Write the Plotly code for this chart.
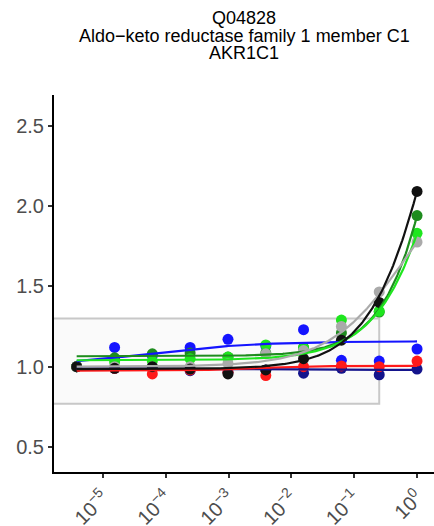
import numpy as np
import plotly.graph_objects as go

# ---- data ----
conc = [3.81e-6, 1.53e-5, 6.10e-5, 2.44e-4, 9.77e-4, 3.91e-3, 1.56e-2, 6.25e-2, 0.25, 1.0]

navy_y  = [1.00, 0.99, 0.99, 0.975, 0.965, 0.98, 0.96, 0.99, 0.95, 0.985]
blue_y  = [1.00, 1.12, 1.07, 1.12, 1.17, 1.13, 1.23, 1.04, 1.035, 1.11]
red_y   = [1.00, 0.99, 0.955, 0.98, 0.965, 0.945, 1.00, 1.005, 1.00, 1.035]
dgreen_y = [1.00, 1.055, 1.08, 1.085, 1.06, 1.085, 1.12, 1.21, 1.34, 1.94]
lime_y  = [1.00, 1.03, 1.035, 1.05, 1.06, 1.135, 1.115, 1.29, 1.345, 1.83]
gray_y  = [1.00, 1.00, 1.00, 1.00, 1.02, 1.08, 1.10, 1.25, 1.465, 1.775]
black_y = [1.00, 0.99, 1.00, 0.985, 0.955, 0.98, 1.05, 1.165, 1.40, 2.09]

# fitted log-logistic curve parameters: bottom, top, ec50, hill
navy_fit   = [0.99, 0.98, 1e-3, 1.0]
blue_fit   = [1.00, 1.158, 5.0e-5, 0.5]
red_fit    = [0.975, 1.005, 2.5e-3, 1.0]
dgreen_fit = [1.065, 8.135, 10.0, 0.85]
lime_fit   = [1.04, 6.27, 10.0, 0.75]
gray_fit   = [1.00, 2.379, 0.7, 0.7]
black_fit  = [0.985, 4.755, 3.0, 0.8]

x_ticks = [1e-5, 1e-4, 1e-3, 1e-2, 1e-1, 1e0]
x_tick_text = ["10<sup>−5</sup>", "10<sup>−4</sup>", "10<sup>−3</sup>",
               "10<sup>−2</sup>", "10<sup>−1</sup>", "10<sup>0</sup>"]
y_ticks = [0.5, 1.0, 1.5, 2.0, 2.5]
y_tick_text = ["0.5", "1.0", "1.5", "2.0", "2.5"]

rect_x = [1e-7, 0.25]
rect_y = [0.77, 1.30]

title_lines = ["Q04828", "Aldo−keto reductase family 1 member C1", "AKR1C1"]

# ---- figure ----
series = [
    (navy_y, navy_fit, "#14148C"),
    (blue_y, blue_fit, "#1414FF"),
    (red_y, red_fit, "#FF1A1A"),
    (dgreen_y, dgreen_fit, "#1E8C1E"),
    (lime_y, lime_fit, "#1EE61E"),
    (gray_y, gray_fit, "#AAAAAA"),
    (black_y, black_fit, "#111111"),
]

def loglogistic(x, p):
    b, t, e, h = p
    return b + (t - b) / (1.0 + (e / x) ** h)

fig = go.Figure()
fig.add_trace(go.Scatter(
    x=[rect_x[0], rect_x[1], rect_x[1], rect_x[0], rect_x[0]],
    y=[rect_y[0], rect_y[0], rect_y[1], rect_y[1], rect_y[0]],
    mode="lines", fill="toself", fillcolor="#FAFAFA",
    line=dict(color="#C8C8C8", width=2), hoverinfo="skip", showlegend=False))

xs = np.logspace(np.log10(conc[0]), np.log10(conc[-1]), 300)
for ys, p, col in series:
    fig.add_trace(go.Scatter(x=conc, y=ys, mode="markers",
                             marker=dict(color=col, size=11, line=dict(width=0)),
                             showlegend=False))
for ys, p, col in series:
    fig.add_trace(go.Scatter(x=xs, y=loglogistic(xs, p), mode="lines",
                             line=dict(color=col, width=2.2), showlegend=False))

font_family = "Liberation Sans, Arial, sans-serif"
PLOT_TOP, PLOT_BOTTOM = 95, 472
title_centers = [18, 35.5, 53]
for line, cy in zip(title_lines, title_centers):
    fig.add_annotation(text=line, xref="paper", yref="paper", x=0.5,
                       y=(PLOT_BOTTOM - cy) / (PLOT_BOTTOM - PLOT_TOP),
                       xanchor="center", yanchor="middle", showarrow=False,
                       font=dict(family=font_family, size=18, color="black"))

fig.update_layout(
    width=434, height=526,
    margin=dict(l=54, r=0, t=PLOT_TOP, b=526 - PLOT_BOTTOM, autoexpand=False),
    paper_bgcolor="white", plot_bgcolor="white",
    font=dict(family=font_family),
)
fig.update_xaxes(type="log", range=[-5.78, 0.27], showgrid=False, zeroline=False,
                 automargin=False,
                 showline=True, linecolor="black", linewidth=2,
                 ticks="outside", ticklen=4, tickwidth=2, tickcolor="#333333",
                 tickvals=x_ticks, ticktext=x_tick_text, tickangle=-45,
                 tickfont=dict(family=font_family, size=20, color="#4D4D4D"))
fig.update_yaxes(range=[0.345, 2.69], showgrid=False, zeroline=False,
                 automargin=False,
                 showline=True, linecolor="black", linewidth=2,
                 ticks="outside", ticklen=4, tickwidth=2, tickcolor="#333333",
                 tickvals=y_ticks, ticktext=y_tick_text,
                 tickfont=dict(family=font_family, size=20, color="#4D4D4D"))

fig.write_html("out.html", config={"displayModeBar": False},
               post_script="document.body.style.margin='0';document.body.style.padding='0';")
